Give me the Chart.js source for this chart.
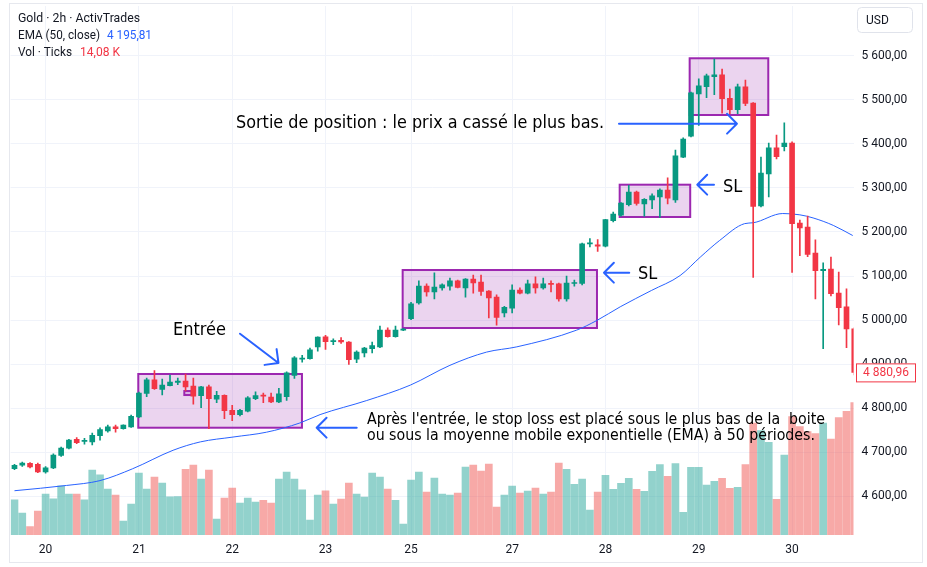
<!DOCTYPE html>
<html>
<head>
<meta charset="utf-8">
<script src="https://cdn.jsdelivr.net/npm/chart.js@4"></script>
<style>
  html, body { margin: 0; padding: 0; background: #fff; }
  canvas { display: block; }
</style>
</head>
<body>
<canvas id="chart" width="927" height="567"></canvas>
<script>
// Gold 2h candles (index 0 = first bar on the left)
const opens = [4662,4670,4674,4672,4655,4664,4692,4709,4729,4724,
  4723,4737,4748,4757,4753,4757,4780,4833,4864,4842,
  4851,4858,4861,4850,4828,4848,4820,4829,4795,4785,
  4793,4821,4829,4825,4814,4826,4874,4911,4912,4939,
  4962,4951,4954,4950,4911,4925,4935,4939,4977,4962,
  4977,5003,5039,5077,5064,5073,5077,5089,5073,5093,
  5086,5066,5052,5016,5027,5068,5061,5082,5073,5083,
  5082,5048,5083,5083,5173,5171,5168,5226,5238,5262,
  5291,5264,5273,5280,5295,5273,5370,5418,5514,5530,
  5553,5557,5504,5478,5530,5493,5259,5332,5391,5394,
  5402,5220,5211,5152,5112,5116,5061,5030,4980];
const highs = [4672,4677,4676,4675,4667,4696,4711,4729,4733,4731,
  4743,4755,4761,4761,4762,4784,4836,4868,4885,4866,
  4875,4868,4877,4868,4849,4852,4838,4830,4806,4797,
  4826,4837,4834,4834,4845,4882,4917,4920,4936,4962,
  4965,4957,4960,4951,4930,4938,4950,4986,4982,4986,
  4981,5040,5089,5082,5107,5082,5095,5091,5094,5102,
  5102,5067,5057,5031,5080,5073,5091,5098,5095,5089,
  5084,5100,5091,5175,5185,5183,5229,5245,5267,5306,
  5293,5276,5287,5298,5323,5386,5414,5518,5548,5559,
  5593,5570,5525,5536,5545,5494,5370,5402,5420,5448,
  5405,5227,5236,5182,5130,5143,5109,5071,4982];
const lows = [4660,4667,4664,4653,4652,4662,4690,4707,4719,4718,
  4716,4727,4745,4745,4752,4756,4778,4826,4842,4830,
  4850,4853,4839,4809,4801,4753,4812,4776,4771,4782,
  4791,4819,4812,4812,4812,4817,4867,4904,4911,4929,
  4933,4944,4947,4899,4903,4916,4925,4937,4961,4961,
  4976,5001,5036,5054,5048,5068,5068,5073,5052,5061,
  5056,5005,4988,5007,5016,5059,5059,5061,5070,5064,
  5043,5043,5077,5080,5166,5156,5166,5223,5236,5259,
  5261,5236,5253,5233,5264,5267,5369,5416,5442,5505,
  5512,5470,5469,5469,5487,5097,5257,5280,5366,5384,
  5108,5146,5144,5048,4935,5055,4989,4937,4875];
const closes = [4670,4675,4666,4655,4664,4693,4709,4727,4721,4726,
  4738,4751,4757,4753,4761,4781,4834,4864,4844,4852,
  4859,4861,4848,4827,4848,4821,4829,4794,4785,4795,
  4823,4828,4827,4814,4832,4880,4914,4913,4932,4961,
  4951,4953,4950,4910,4927,4936,4942,4977,4962,4977,
  4979,5037,5077,5064,5075,5080,5089,5074,5093,5084,
  5065,5050,5006,5029,5068,5061,5082,5073,5082,5081,
  5048,5084,5085,5173,5175,5168,5228,5241,5266,5291,
  5265,5274,5282,5295,5277,5373,5411,5516,5532,5555,
  5557,5503,5478,5530,5492,5258,5334,5391,5371,5402,
  5219,5209,5149,5112,5115,5060,5028,4980,4880.96];
// volume in thousands of ticks
const volumes = [3.75,2.34,0.9,2.55,4.36,3.86,5.24,4.36,4.36,3.75,
  6.9,6.4,4.9,4.25,1.49,3.3,6.6,4.9,6.17,5.53,
  4.07,4.1,7.0,7.45,5.96,6.9,1.7,3.94,5.0,3.4,
  3.94,3.5,3.7,3.4,5.96,6.7,5.96,4.8,1.6,4.25,
  4.7,3.3,3.83,5.53,4.36,4.04,6.6,6.17,4.9,3.7,
  1.17,5.85,6.7,4.57,6.06,4.36,4.25,4.47,7.23,7.45,
  6.8,7.55,2.98,4.25,5.2,4.47,4.68,5.0,4.36,4.57,
  7.66,7.0,5.4,5.96,2.66,4.57,6.35,4.86,5.5,6.03,
  4.86,4.65,6.77,7.5,6.24,7.6,2.4,7.2,7.2,5.3,
  5.7,6.03,4.96,5.07,7.5,11.9,11.1,9.85,3.8,8.5,
  12.6,11.55,11.0,10.8,11.9,10.2,12.5,13.15,14.08];

// EMA(50) read at these bar positions
const emaIdx = [0, 6.7, 11, 15.2, 20.4, 23.9, 28.1, 32.4, 36.7, 39.3, 45.3, 50.9, 56, 60.7, 64.6,
  72.3, 74.9, 77.9, 81.9, 85.6, 88.2, 90.7, 93.9, 95, 98.8, 101, 102.7, 105.3, 107.8];
const emaVal = [4612, 4624, 4635, 4662, 4704, 4723, 4734, 4745, 4766, 4785, 4817, 4852, 4897, 4927, 4939,
  4977, 4999, 5030, 5067, 5101, 5143, 5181, 5219, 5221, 5242, 5239, 5232, 5215, 5192];

// time axis
const dayIdx = [4, 16, 28, 40, 51, 64, 76, 88, 100];
const dayLabels = ['20', '21', '22', '23', '25', '27', '28', '29', '30'];

// price axis
const priceTicks = [4600, 4700, 4800, 4900, 5000, 5100, 5200, 5300, 5400, 5500, 5600];
const priceLabels = ['4 600,00', '4 700,00', '4 800,00', '4 900,00', '5 000,00', '5 100,00',
  '5 200,00', '5 300,00', '5 400,00', '5 500,00', '5 600,00'];
const lastPrice = 4880.96;
const lastPriceLabel = '4 880,96';

// drawings: [fromIdx, toIdx, topPrice, bottomPrice]
const boxes = [
  [15.92, 36.97, 4877.3, 4755.2],
  [49.92, 74.91, 5113.6, 4981.8],
  [77.83, 86.9, 5307.5, 5234.1],
  [86.83, 96.94, 5594.8, 5465.9],
  [21.84, 22.78, 4838.6, 4829.5]
];
// arrows: [tailIdx, tailPrice, tipIdx, tipPrice]
const arrows = [
  [77.74, 5446.1, 92.91, 5446.1],
  [89.96, 5307.5, 87.81, 5307.5],
  [79.06, 5107.5, 75.81, 5107.5],
  [29.0, 4968.9, 33.95, 4902.3],
  [44.01, 4755.2, 38.86, 4755.2]
];
// notes: [text, idx, price, fontSize, maxWidth]
const notes = [
  ['Sortie de position : le prix a cassé le plus bas.', 28.49, 5447.7, 18, 368],
  ['Entrée', 20.38, 4977.3, 18, 54],
  ['SL', 91.11, 5302.3, 18, 20],
  ['SL', 80.18, 5104.5, 18, 20],
  ["Après l'entrée, le stop loss est placé sous le plus bas de la  boite", 45.33, 4773.9, 16, 458],
  ['ou sous la moyenne mobile exponentielle (EMA) à 50 périodes.', 45.33, 4736.4, 16, 448]
];

const UP = '#089981', DOWN = '#f23645';
const candleColors = opens.map((o, i) => closes[i] >= o ? UP : DOWN);
const volColors = opens.map((o, i) => closes[i] >= o ? 'rgba(38,166,154,0.5)' : 'rgba(239,83,80,0.5)');

const bodies = opens.map((o, i) => ({ x: i, y: [o, closes[i]] }));
const wicks = lows.map((l, i) => ({ x: i, y: [l, highs[i]] }));
const vols = volumes.map((v, i) => ({ x: i, y: v }));
const ema = emaIdx.map((x, i) => ({ x: x, y: emaVal[i] }));

const NOTE_FONT = '"DejaVu Sans Condensed", "DejaVu Sans", sans-serif';
const UI_FONT = 'Roboto, "Liberation Sans", sans-serif';

function drawArrow(ctx, x0, y0, x1, y1) {
  const a = Math.atan2(y1 - y0, x1 - x0);
  const L = 14;
  ctx.beginPath();
  ctx.moveTo(x0, y0);
  ctx.lineTo(x1, y1);
  ctx.moveTo(x1 - L * Math.cos(a - Math.PI / 4), y1 - L * Math.sin(a - Math.PI / 4));
  ctx.lineTo(x1, y1);
  ctx.lineTo(x1 - L * Math.cos(a + Math.PI / 4), y1 - L * Math.sin(a + Math.PI / 4));
  ctx.stroke();
}

// keep the plot area where the reference has it (no label overhang padding)
function noOverhang(s) {
  s.paddingTop = 0;
  s.paddingBottom = 0;
  s.paddingLeft = 0;
  s.paddingRight = 0;
}

const drawings = {
  id: 'drawings',
  beforeDatasetsDraw(chart) {
    const { ctx, scales: { x, y } } = chart;
    ctx.save();
    boxes.forEach(b => {
      const x0 = x.getPixelForValue(b[0]), x1 = x.getPixelForValue(b[1]);
      const y0 = y.getPixelForValue(b[2]), y1 = y.getPixelForValue(b[3]);
      ctx.fillStyle = 'rgba(156,39,176,0.2)';
      ctx.fillRect(x0, y0, x1 - x0, y1 - y0);
      ctx.strokeStyle = '#9c27b0';
      ctx.lineWidth = 2;
      ctx.strokeRect(x0, y0, x1 - x0, y1 - y0);
    });
    ctx.restore();
  },
  afterDatasetsDraw(chart) {
    const { ctx, scales: { x, y } } = chart;
    ctx.save();
    ctx.strokeStyle = '#2962ff';
    ctx.lineWidth = 2;
    ctx.lineCap = 'round';
    ctx.lineJoin = 'round';
    arrows.forEach(a => {
      drawArrow(ctx, x.getPixelForValue(a[0]), y.getPixelForValue(a[1]),
        x.getPixelForValue(a[2]), y.getPixelForValue(a[3]));
    });
    ctx.fillStyle = '#000';
    ctx.textBaseline = 'middle';
    ctx.textAlign = 'left';
    notes.forEach(n => {
      ctx.font = n[3] + 'px ' + NOTE_FONT;
      ctx.fillText(n[0], x.getPixelForValue(n[1]), y.getPixelForValue(n[2]), n[4]);
    });
    ctx.restore();
  },
  afterDraw(chart) {
    const { ctx, scales: { y } } = chart;
    ctx.save();
    // outer frame
    ctx.strokeStyle = '#e6e8ee';
    ctx.lineWidth = 1;
    ctx.strokeRect(9.5, 3.5, 913, 559);

    // legend
    ctx.textBaseline = 'middle';
    ctx.textAlign = 'left';
    ctx.font = '13px ' + UI_FONT;
    ctx.fillStyle = '#131722';
    ctx.fillText('Gold · 2h · ActivTrades', 18, 19, 122);
    ctx.fillText('EMA (50, close)', 18, 36, 82);
    ctx.fillText('Vol · Ticks', 18, 53, 54);
    ctx.fillStyle = '#2962ff';
    ctx.fillText('4 195,81', 107, 36, 45);
    ctx.fillStyle = '#f23645';
    ctx.fillText('14,08 K', 80, 53, 40);

    // currency box
    ctx.strokeStyle = '#e0e3eb';
    ctx.fillStyle = '#fff';
    ctx.beginPath();
    ctx.roundRect(857.5, 7.5, 55, 25, 4);
    ctx.fill();
    ctx.stroke();
    ctx.fillStyle = '#131722';
    ctx.font = '12px ' + UI_FONT;
    ctx.fillText('USD', 866, 20.5);

    // last price label
    const py = y.getPixelForValue(lastPrice);
    ctx.fillStyle = '#fff';
    ctx.strokeStyle = DOWN;
    ctx.fillRect(856, py - 9, 60, 19);
    ctx.strokeRect(856.5, py - 8.5, 59, 18);
    ctx.fillStyle = DOWN;
    ctx.textAlign = 'center';
    ctx.fillText(lastPriceLabel, 886, py + 0.5);
    ctx.restore();
  }
};

new Chart(document.getElementById('chart'), {
  type: 'bar',
  data: {
    datasets: [
      {
        type: 'bar', label: 'body', data: bodies, backgroundColor: candleColors,
        barThickness: 5, minBarLength: 1, grouped: false, order: 1, yAxisID: 'y', clip: 0
      },
      {
        type: 'bar', label: 'wick', data: wicks, backgroundColor: candleColors,
        barThickness: 1, grouped: false, order: 2, yAxisID: 'y', clip: 0
      },
      {
        type: 'line', label: 'EMA', data: ema, borderColor: '#2962ff', borderWidth: 1,
        pointRadius: 0, cubicInterpolationMode: 'monotone', order: 3, yAxisID: 'y', clip: 0
      },
      {
        type: 'bar', label: 'Vol', data: vols, backgroundColor: volColors,
        barThickness: 7, grouped: false, order: 4, yAxisID: 'yv', clip: 0
      }
    ]
  },
  options: {
    responsive: false,
    animation: false,
    devicePixelRatio: 1,
    layout: { padding: { left: 10.6, top: 6, right: 0, bottom: 0 } },
    plugins: { legend: { display: false }, tooltip: { enabled: false } },
    scales: {
      x: {
        type: 'linear',
        offset: false,
        min: -0.5,
        max: 107.9,
        afterBuildTicks: s => { s.ticks = dayIdx.map(v => ({ value: v })); },
        afterFit: s => { s.height = 32; noOverhang(s); },
        ticks: {
          callback: v => dayLabels[dayIdx.indexOf(v)],
          autoSkip: false, maxRotation: 0, padding: 8,
          color: '#131722',
          font: { family: UI_FONT, size: 12 }
        },
        grid: { color: '#f0f3fa', drawTicks: false, offset: false },
        border: { display: false }
      },
      y: {
        position: 'right',
        min: 4511.4,
        max: 5713.6,
        afterBuildTicks: s => { s.ticks = priceTicks.map(v => ({ value: v })); },
        afterFit: s => { s.width = 73.5; noOverhang(s); },
        ticks: {
          callback: v => priceLabels[priceTicks.indexOf(v)],
          padding: 8,
          color: '#131722',
          font: { family: UI_FONT, size: 12 }
        },
        grid: { color: '#f0f3fa', drawTicks: false },
        border: { display: false }
      },
      yv: { display: false, min: 0, max: 56.3 }
    }
  },
  plugins: [drawings]
});
</script>
</body>
</html>
